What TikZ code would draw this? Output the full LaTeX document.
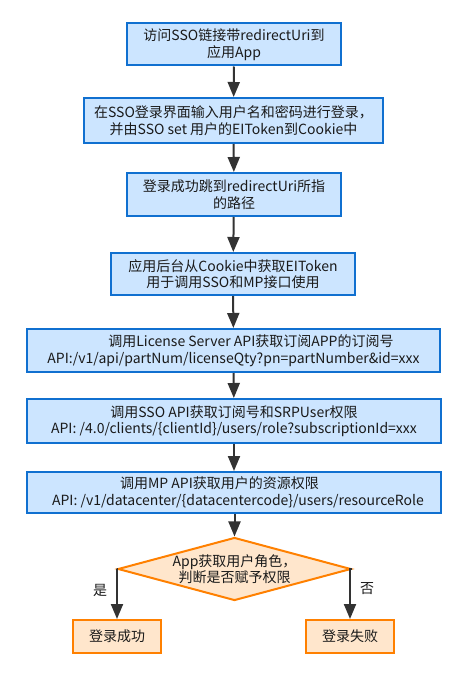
\documentclass[tikz,border=0pt]{standalone}
\usepackage{fontspec}
\setmainfont{Noto Sans CJK SC}
\usetikzlibrary{arrows.meta,shapes.geometric}
\definecolor{bfill}{HTML}{CCE5FF}
\definecolor{bdraw}{HTML}{1070D0}
\definecolor{ofill}{HTML}{FFE6CC}
\definecolor{odraw}{HTML}{FF8000}
\definecolor{arr}{HTML}{333333}
\definecolor{txt}{HTML}{1A1A1A}
\begin{document}
\begin{tikzpicture}[x=1bp,y=-1bp,
  every node/.style={font=\fontsize{14bp}{16.5bp}\selectfont, text=txt},
  bluebox/.style={rectangle, draw=bdraw, fill=bfill, line width=2bp, align=center, inner sep=0pt},
  orangebox/.style={rectangle, draw=odraw, fill=ofill, line width=2bp, align=center, inner sep=0pt},
  conn/.style={draw=arr, line width=2bp, -{Triangle[width=12bp,length=15bp]}},
  lbl/.style={inner sep=0pt}]
\useasboundingbox (0,0) rectangle (467,678);
\node[bluebox, minimum width=214bp, minimum height=42bp] (b1) at (234,44.5) {访问SSO链接带redirectUri到\\应用App};
\node[bluebox, minimum width=299bp, minimum height=45bp] (b2) at (233.5,120.5) {在SSO登录界面输入用户名和密码进行登录，\\并由SSO set 用户的EIToken到Cookie中};
\node[bluebox, minimum width=214bp, minimum height=43bp] (b3) at (234,194.5) {登录成功跳到redirectUri所指\\的路径};
\node[bluebox, minimum width=244bp, minimum height=42bp] (b4) at (233,274) {应用后台从Cookie中获取EIToken\\用于调用SSO和MP接口使用};
\node[bluebox, minimum width=413bp, minimum height=43bp] (b5) at (233.5,350.5) {\hspace*{35bp}调用License Server API获取订阅APP的订阅号\\API:/v1/api/partNum/licenseQty?pn=partNumber\&id=xxx};
\node[bluebox, minimum width=414bp, minimum height=44bp] (b6) at (234,421) {调用SSO API获取订阅号和SRPUser权限\\API: /4.0/clients/\{clientId\}/users/role?subscriptionId=xxx};
\node[bluebox, minimum width=414bp, minimum height=41bp] (b7) at (234,492.5) {调用MP API获取用户的资源权限\hspace*{29bp}\\\hspace*{8bp}API: /v1/datacenter/\{datacentercode\}/users/resourceRole};
\node[diamond, aspect=3.7, draw=odraw, fill=ofill, line width=2bp, align=center, inner sep=0pt, minimum width=215bp, minimum height=58bp] (d) at (234.5,569) {App获取用户角色，\\判断是否赋予权限};
\node[orangebox, minimum width=88bp, minimum height=33bp] (s) at (117,636.5) {登录成功};
\node[orangebox, minimum width=88bp, minimum height=33bp] (f) at (350,636.5) {登录失败};
\draw[conn] (b1) -- (b2);
\draw[conn] (b2) -- (b3);
\draw[conn] (b3) -- (b4);
\draw[conn] (b4) -- (b5);
\draw[conn] (b5) -- (b6);
\draw[conn] (b6) -- (b7);
\draw[conn] (b7.south -| d.north) -- (d.north);
\draw[conn] (d.west) -| (s.north);
\draw[conn] (d.east) -| (f.north);
\node[lbl] (yes) at (100,590) {是};
\node[lbl] (no) at (367,589) {否};
\end{tikzpicture}
\end{document}
